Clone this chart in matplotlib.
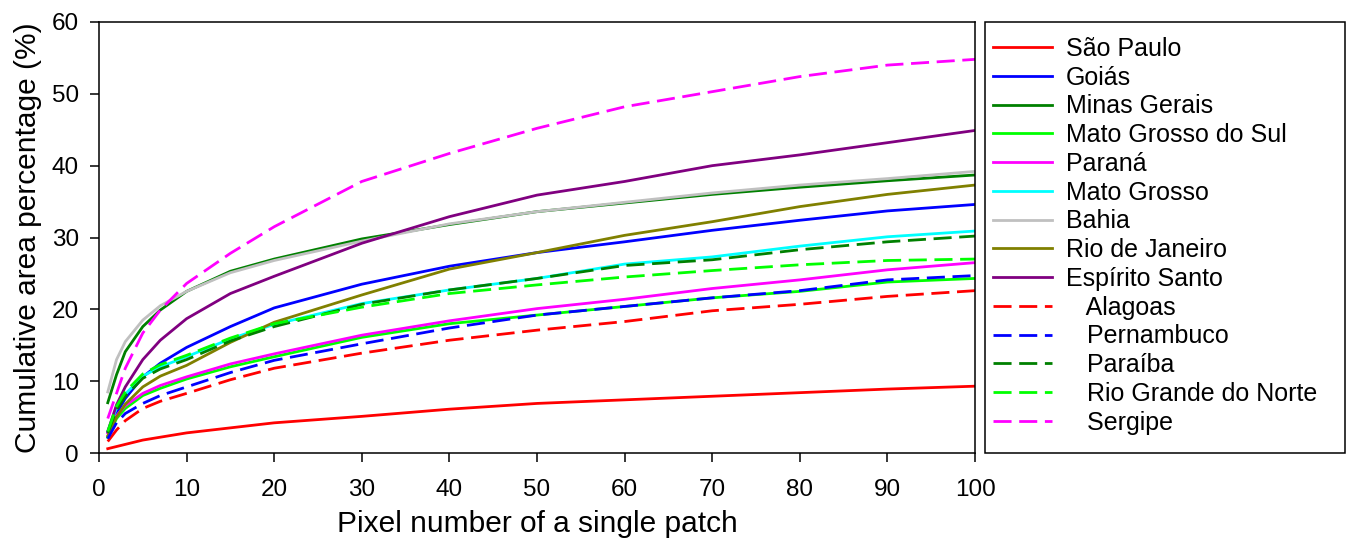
import matplotlib
matplotlib.use("Agg")
import matplotlib.pyplot as plt
from matplotlib.patches import Rectangle

plt.rcParams["font.family"] = ["Liberation Sans", "DejaVu Sans"]
plt.rcParams["lines.scale_dashes"] = False

# pixel number of a single patch
pixels = [1, 2, 3, 5, 7, 10, 15, 20, 30, 40, 50, 60, 70, 80, 90, 100]

# cumulative area percentage (%)
sao_paulo = [0.6, 0.9, 1.2, 1.8, 2.2, 2.8, 3.5, 4.2, 5.1, 6.1, 6.9, 7.4, 7.9, 8.4, 8.9, 9.3]
goias = [2.2, 5.5, 7.6, 10.6, 12.5, 14.7, 17.6, 20.2, 23.5, 26.0, 27.9, 29.4, 31.0, 32.4, 33.7, 34.6]
minas_gerais = [7.0, 10.9, 14.1, 17.6, 19.9, 22.5, 25.3, 27.0, 29.8, 31.8, 33.6, 34.8, 36.0, 37.0, 37.9, 38.7]
mato_grosso_sul = [2.2, 4.8, 6.2, 8.0, 9.0, 10.3, 12.0, 13.4, 16.1, 18.0, 19.2, 20.4, 21.6, 22.5, 23.8, 24.3]
parana = [2.8, 5.2, 6.6, 8.3, 9.4, 10.6, 12.4, 13.8, 16.4, 18.4, 20.1, 21.4, 22.9, 24.1, 25.5, 26.5]
mato_grosso = [3.0, 6.3, 8.2, 10.7, 12.0, 13.4, 15.9, 17.9, 20.8, 22.7, 24.3, 26.3, 27.3, 28.8, 30.1, 30.9]
bahia = [8.5, 13.0, 15.5, 18.5, 20.5, 22.5, 25.1, 26.8, 29.5, 31.9, 33.6, 34.9, 36.2, 37.3, 38.2, 39.2]
rio_de_janeiro = [2.4, 5.0, 6.8, 9.2, 10.7, 12.2, 15.4, 18.2, 22.0, 25.6, 27.9, 30.3, 32.2, 34.3, 36.0, 37.3]
espirito_santo = [3.0, 6.7, 9.2, 13.0, 15.7, 18.7, 22.2, 24.6, 29.2, 32.9, 35.9, 37.8, 40.0, 41.5, 43.2, 44.9]
alagoas = [1.6, 3.2, 4.5, 6.2, 7.2, 8.3, 10.2, 11.8, 13.9, 15.7, 17.1, 18.3, 19.8, 20.7, 21.8, 22.6]
pernambuco = [2.0, 4.2, 5.5, 6.9, 8.0, 9.2, 11.2, 12.9, 15.2, 17.4, 19.2, 20.4, 21.6, 22.6, 24.1, 24.7]
paraiba = [2.8, 6.0, 7.9, 10.4, 11.7, 13.0, 15.6, 17.6, 20.7, 22.7, 24.3, 26.1, 26.9, 28.3, 29.4, 30.2]
rio_grande_norte = [3.0, 6.5, 8.5, 11.0, 12.3, 13.6, 16.0, 18.0, 20.3, 22.2, 23.4, 24.5, 25.4, 26.2, 26.8, 27.0]
sergipe = [4.8, 8.3, 11.8, 16.7, 19.9, 23.6, 27.8, 31.5, 37.8, 41.7, 45.2, 48.2, 50.3, 52.4, 54.0, 54.8]

series = [
    ("São Paulo", sao_paulo, "#ff0000", "-"),
    ("Goiás", goias, "#0000ff", "-"),
    ("Minas Gerais", minas_gerais, "#008000", "-"),
    ("Mato Grosso do Sul", mato_grosso_sul, "#00ff00", "-"),
    ("Paraná", parana, "#ff00ff", "-"),
    ("Mato Grosso", mato_grosso, "#00ffff", "-"),
    ("Bahia", bahia, "#c0c0c0", "-"),
    ("Rio de Janeiro", rio_de_janeiro, "#808000", "-"),
    ("Espírito Santo", espirito_santo, "#800080", "-"),
    ("Alagoas", alagoas, "#ff0000", "--"),
    ("Pernambuco", pernambuco, "#0000ff", "--"),
    ("Paraíba", paraiba, "#008000", "--"),
    ("Rio Grande do Norte", rio_grande_norte, "#00ff00", "--"),
    ("Sergipe", sergipe, "#ff00ff", "--"),
]

fig = plt.figure(figsize=(13.51, 5.38), dpi=100)
ax = fig.add_axes([99 / 1351, 85 / 538, 876 / 1351, 431 / 538])

for name, vals, color, ls in series:
    if ls == "--":
        ax.plot(pixels, vals, color=color, lw=2.0, dashes=(13, 5.5), label="   " + name)
    else:
        ax.plot(pixels, vals, color=color, lw=2.0, label=name)

ax.set_xlim(0, 100)
ax.set_ylim(0, 60)
ax.set_xticks(range(0, 101, 10))
ax.set_yticks(range(0, 61, 10))
ax.tick_params(axis="both", direction="out", length=6.5, width=1.1, labelsize=17.5)
ax.tick_params(axis="x", pad=12)
ax.tick_params(axis="y", pad=8)
for sp in ax.spines.values():
    sp.set_linewidth(1.1)

ax.set_xlabel("Pixel number of a single patch", fontsize=21.5, labelpad=7)
ax.set_ylabel("Cumulative area percentage (%)", fontsize=21.5, labelpad=7)

# legend box on the right
fig.patches.append(Rectangle((985 / 1351, 85 / 538), 360 / 1351, 431 / 538,
                             transform=fig.transFigure, fill=False,
                             edgecolor="black", linewidth=1.1))
fig.legend(loc="upper left", bbox_to_anchor=(993 / 1351, 1 - 37 / 538),
           frameon=False, fontsize=18, handlelength=2.36, handletextpad=0.56,
           labelspacing=0.19, borderpad=0, borderaxespad=0)

fig.savefig("out.png", dpi=100)
